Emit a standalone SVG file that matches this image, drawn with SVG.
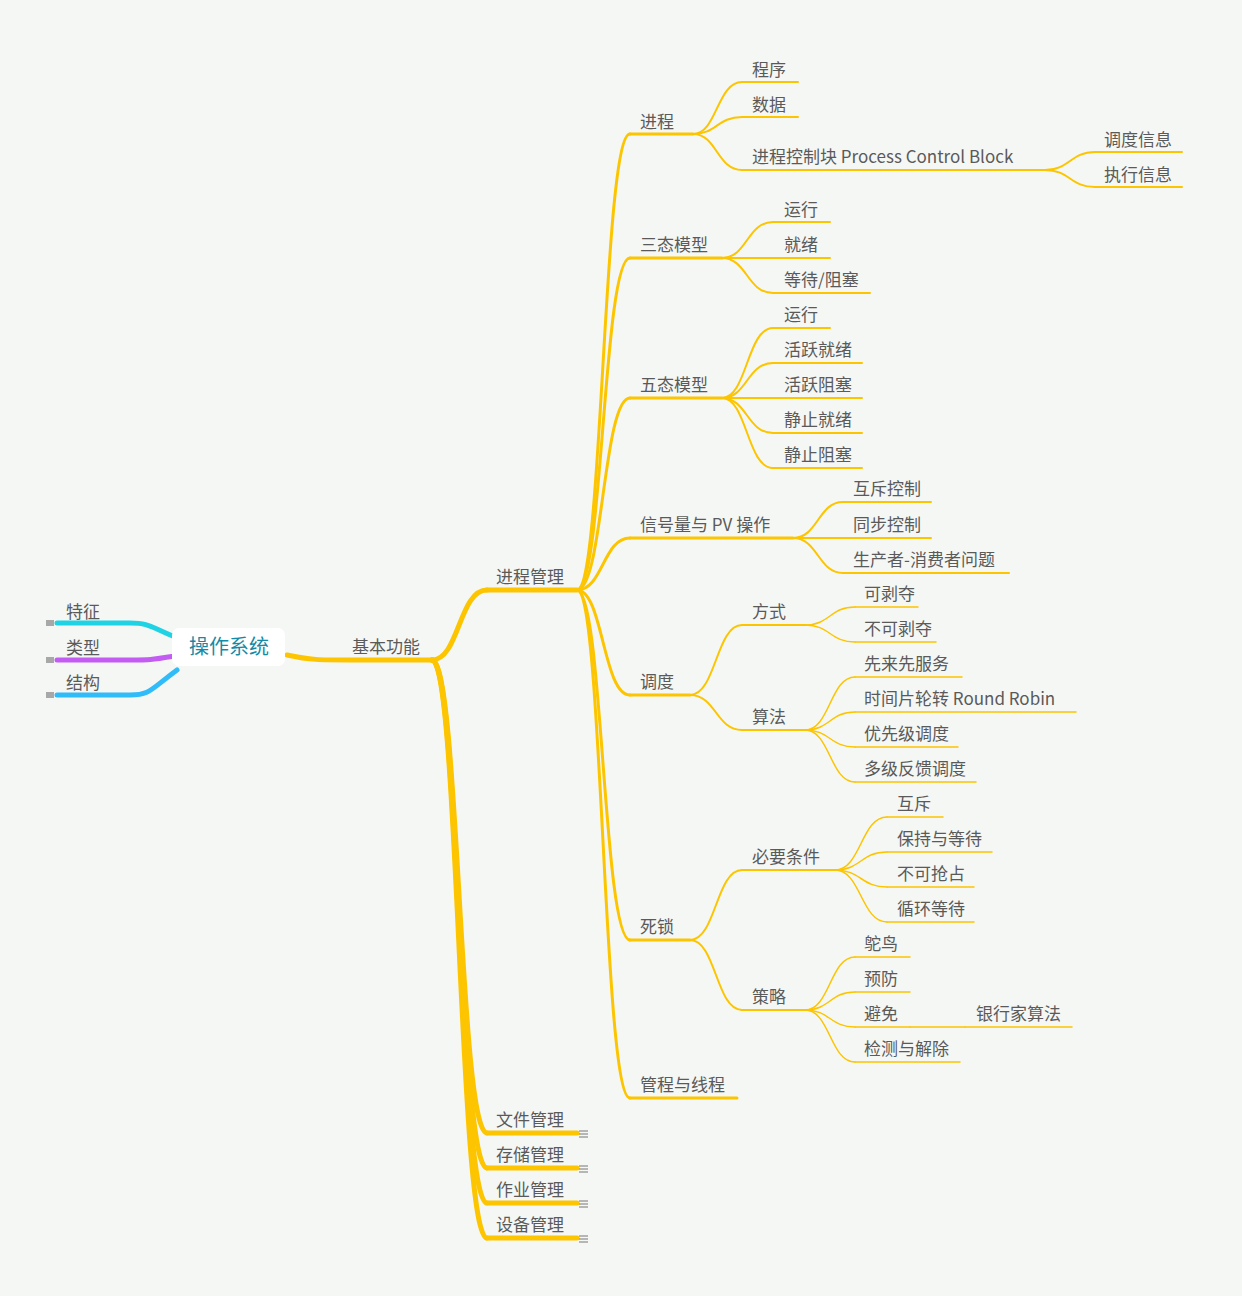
<svg xmlns="http://www.w3.org/2000/svg" width="1242" height="1296" viewBox="0 0 1242 1296">
<style>
text{font-family:"Noto Sans CJK SC","Liberation Sans",sans-serif;font-size:17px;fill:#5a5a5a}
.c{fill:none;stroke:#fcc500;stroke-linecap:round}
.w6{stroke-width:5}.w4{stroke-width:4}.w3{stroke-width:3}.w2{stroke-width:2}.w1{stroke-width:1.5}
.m{fill:#a8a8a8}
</style>
<rect width="1242" height="1296" fill="#f5f7f4"/>
<g id="connectors">
<path d="M175 637 C150 627 150 623 130 623 H57" fill="none" stroke="#1fd3e4" stroke-width="5" stroke-linecap="round"/>
<path d="M175 656 C150 660 150 660 130 660 H57" fill="none" stroke="#c35cf2" stroke-width="5" stroke-linecap="round"/>
<path d="M177 670 C150 690 150 695 130 695 H57" fill="none" stroke="#2fbcf8" stroke-width="5" stroke-linecap="round"/>
<path class="c w6" d="M287 655 C310 660 320 660 350 660 H432"/>
<g class="c w6">
<path d="M432 660 C459 660 459 590 487 590"/>
<path d="M432 660 C459 660 459 1133 487 1133"/>
<path d="M432 660 C459 660 459 1168 487 1168"/>
<path d="M432 660 C459 660 459 1203 487 1203"/>
<path d="M432 660 C459 660 459 1238 487 1238"/>
</g>
<g class="c w3">
<path d="M577 590 C603 590 603 134 630 134"/>
<path d="M577 590 C603 590 603 258 630 258"/>
<path d="M577 590 C603 590 603 398 630 398"/>
<path d="M577 590 C603 590 603 538 630 538"/>
<path d="M577 590 C603 590 603 695 630 695"/>
<path d="M577 590 C603 590 603 940 630 940"/>
<path d="M577 590 C603 590 603 1098 630 1098"/>
</g>
<g class="c w2">
<path d="M693 134 C717 134 717 82 742 82"/>
<path d="M693 134 C717 134 717 117 742 117"/>
<path d="M693 134 C717 134 717 170 742 170"/>
<path d="M1045 170 C1070 170 1070 152 1095 152"/>
<path d="M1045 170 C1070 170 1070 187 1095 187"/>
<path d="M722 258 C747 258 747 222 773 222"/>
<path d="M722 258 C747 258 747 258 773 258"/>
<path d="M722 258 C747 258 747 293 773 293"/>
<path d="M722 398 C747 398 747 328 773 328"/>
<path d="M722 398 C747 398 747 363 773 363"/>
<path d="M722 398 C747 398 747 398 773 398"/>
<path d="M722 398 C747 398 747 433 773 433"/>
<path d="M722 398 C747 398 747 468 773 468"/>
<path d="M793 538 C818 538 818 502 843 502"/>
<path d="M793 538 C818 538 818 538 843 538"/>
<path d="M793 538 C818 538 818 573 843 573"/>
<path d="M690 695 C716 695 716 625 742 625"/>
<path d="M690 695 C716 695 716 730 742 730"/>
<path d="M690 940 C716 940 716 870 742 870"/>
<path d="M690 940 C716 940 716 1010 742 1010"/>
</g>
<g class="c w1">
<path d="M805 625 C830 625 830 607 855 607"/>
<path d="M805 625 C830 625 830 642 855 642"/>
<path d="M805 730 C830 730 830 677 855 677"/>
<path d="M805 730 C830 730 830 712 855 712"/>
<path d="M805 730 C830 730 830 747 855 747"/>
<path d="M805 730 C830 730 830 782 855 782"/>
<path d="M835 870 C861 870 861 817 887 817"/>
<path d="M835 870 C861 870 861 852 887 852"/>
<path d="M835 870 C861 870 861 887 887 887"/>
<path d="M835 870 C861 870 861 922 887 922"/>
<path d="M805 1010 C830 1010 830 957 855 957"/>
<path d="M805 1010 C830 1010 830 992 855 992"/>
<path d="M805 1010 C830 1010 830 1027 855 1027"/>
<path d="M805 1010 C830 1010 830 1062 855 1062"/>
<path d="M910 1027 H965"/>
</g>
</g>
<g id="root"><rect x="172" y="628" width="113" height="38" rx="7" fill="#fff"/><text x="229" y="654" text-anchor="middle" style="font-size:20px;fill:#168aa5">操作系统</text></g>
<g id="n-tz"><rect class="m" x="46" y="620" width="8" height="6"/><text x="66" y="618">特征</text></g>
<g id="n-lx"><rect class="m" x="46" y="657" width="8" height="6"/><text x="66" y="654">类型</text></g>
<g id="n-jg"><rect class="m" x="46" y="692" width="8" height="6"/><text x="66" y="689">结构</text></g>
<g id="n-jbgn"><text x="352" y="653">基本功能</text></g>
<g id="n-jcgl"><line class="c w6" x1="487" y1="590" x2="577" y2="590"/><text x="496" y="583">进程管理</text></g>
<g id="n-wj"><line class="c w6" x1="487" y1="1133" x2="577" y2="1133"/><text x="496" y="1126">文件管理</text><path d="M579 1131h9M579 1134h9M579 1137h9" stroke="#777" stroke-width="1"/></g>
<g id="n-cc"><line class="c w6" x1="487" y1="1168" x2="577" y2="1168"/><text x="496" y="1161">存储管理</text><path d="M579 1166h9M579 1169h9M579 1172h9" stroke="#777" stroke-width="1"/></g>
<g id="n-zy"><line class="c w6" x1="487" y1="1203" x2="577" y2="1203"/><text x="496" y="1196">作业管理</text><path d="M579 1201h9M579 1204h9M579 1207h9" stroke="#777" stroke-width="1"/></g>
<g id="n-sb"><line class="c w6" x1="487" y1="1238" x2="577" y2="1238"/><text x="496" y="1231">设备管理</text><path d="M579 1236h9M579 1239h9M579 1242h9" stroke="#777" stroke-width="1"/></g>
<g class="c w3">
<line x1="630" y1="134" x2="693" y2="134"/><line x1="630" y1="258" x2="722" y2="258"/><line x1="630" y1="398" x2="722" y2="398"/><line x1="630" y1="538" x2="793" y2="538"/><line x1="630" y1="695" x2="690" y2="695"/><line x1="630" y1="940" x2="690" y2="940"/><line x1="630" y1="1098" x2="737" y2="1098"/>
</g>
<g class="c w2">
<line x1="742" y1="82" x2="798" y2="82"/><line x1="742" y1="117" x2="798" y2="117"/><line x1="742" y1="170" x2="1045" y2="170"/>
<line x1="1095" y1="152" x2="1182" y2="152"/><line x1="1095" y1="187" x2="1182" y2="187"/>
<line x1="773" y1="222" x2="830" y2="222"/><line x1="773" y1="258" x2="830" y2="258"/><line x1="773" y1="293" x2="870" y2="293"/>
<line x1="773" y1="328" x2="830" y2="328"/><line x1="773" y1="363" x2="862" y2="363"/><line x1="773" y1="398" x2="862" y2="398"/><line x1="773" y1="433" x2="862" y2="433"/><line x1="773" y1="468" x2="862" y2="468"/>
<line x1="843" y1="502" x2="931" y2="502"/><line x1="843" y1="538" x2="931" y2="538"/><line x1="843" y1="573" x2="1009" y2="573"/>
<line x1="742" y1="625" x2="805" y2="625"/><line x1="742" y1="730" x2="805" y2="730"/><line x1="742" y1="870" x2="835" y2="870"/><line x1="742" y1="1010" x2="805" y2="1010"/>
</g>
<g class="c w1">
<line x1="855" y1="607" x2="918" y2="607"/><line x1="855" y1="642" x2="936" y2="642"/>
<line x1="855" y1="677" x2="962" y2="677"/><line x1="855" y1="712" x2="1076" y2="712"/><line x1="855" y1="747" x2="958" y2="747"/><line x1="855" y1="782" x2="976" y2="782"/>
<line x1="887" y1="817" x2="943" y2="817"/><line x1="887" y1="852" x2="992" y2="852"/><line x1="887" y1="887" x2="974" y2="887"/><line x1="887" y1="922" x2="974" y2="922"/>
<line x1="855" y1="957" x2="910" y2="957"/><line x1="855" y1="992" x2="910" y2="992"/><line x1="855" y1="1027" x2="910" y2="1027"/><line x1="965" y1="1027" x2="1072" y2="1027"/><line x1="855" y1="1062" x2="960" y2="1062"/>
</g>
<g id="n-jc"><text x="640" y="128">进程</text></g>
<g id="n-cx"><text x="752" y="76">程序</text></g>
<g id="n-sj"><text x="752" y="111">数据</text></g>
<g id="n-pcb"><text x="752" y="163">进程控制块 Process Control Block</text></g>
<g id="n-ddxx"><text x="1104" y="146">调度信息</text></g>
<g id="n-zxxx"><text x="1104" y="181">执行信息</text></g>
<g id="n-st"><text x="640" y="251">三态模型</text></g>
<g id="n-st1"><text x="784" y="216">运行</text></g>
<g id="n-st2"><text x="784" y="251">就绪</text></g>
<g id="n-st3"><text x="784" y="286">等待/阻塞</text></g>
<g id="n-wt"><text x="640" y="391">五态模型</text></g>
<g id="n-wt1"><text x="784" y="321">运行</text></g>
<g id="n-wt2"><text x="784" y="356">活跃就绪</text></g>
<g id="n-wt3"><text x="784" y="391">活跃阻塞</text></g>
<g id="n-wt4"><text x="784" y="426">静止就绪</text></g>
<g id="n-wt5"><text x="784" y="461">静止阻塞</text></g>
<g id="n-xhl"><text x="640" y="531">信号量与 PV 操作</text></g>
<g id="n-hc"><text x="853" y="495">互斥控制</text></g>
<g id="n-tb"><text x="853" y="531">同步控制</text></g>
<g id="n-sc"><text x="853" y="566">生产者-消费者问题</text></g>
<g id="n-dd"><text x="640" y="688">调度</text></g>
<g id="n-fs"><text x="752" y="618">方式</text></g>
<g id="n-kbd"><text x="864" y="600">可剥夺</text></g>
<g id="n-bkbd"><text x="864" y="635">不可剥夺</text></g>
<g id="n-sf"><text x="752" y="723">算法</text></g>
<g id="n-fcfs"><text x="864" y="670">先来先服务</text></g>
<g id="n-rr"><text x="864" y="705">时间片轮转 Round Robin</text></g>
<g id="n-yxj"><text x="864" y="740">优先级调度</text></g>
<g id="n-djfk"><text x="864" y="775">多级反馈调度</text></g>
<g id="n-ss"><text x="640" y="933">死锁</text></g>
<g id="n-bytj"><text x="752" y="863">必要条件</text></g>
<g id="n-hc2"><text x="897" y="810">互斥</text></g>
<g id="n-bc"><text x="897" y="845">保持与等待</text></g>
<g id="n-bkqz"><text x="897" y="880">不可抢占</text></g>
<g id="n-xh"><text x="897" y="915">循环等待</text></g>
<g id="n-cl"><text x="752" y="1003">策略</text></g>
<g id="n-tn"><text x="864" y="950">鸵鸟</text></g>
<g id="n-yf"><text x="864" y="985">预防</text></g>
<g id="n-bm"><text x="864" y="1020">避免</text></g>
<g id="n-yhj"><text x="976" y="1020">银行家算法</text></g>
<g id="n-jcjc"><text x="864" y="1055">检测与解除</text></g>
<g id="n-gc"><text x="640" y="1091">管程与线程</text></g>
</svg>
